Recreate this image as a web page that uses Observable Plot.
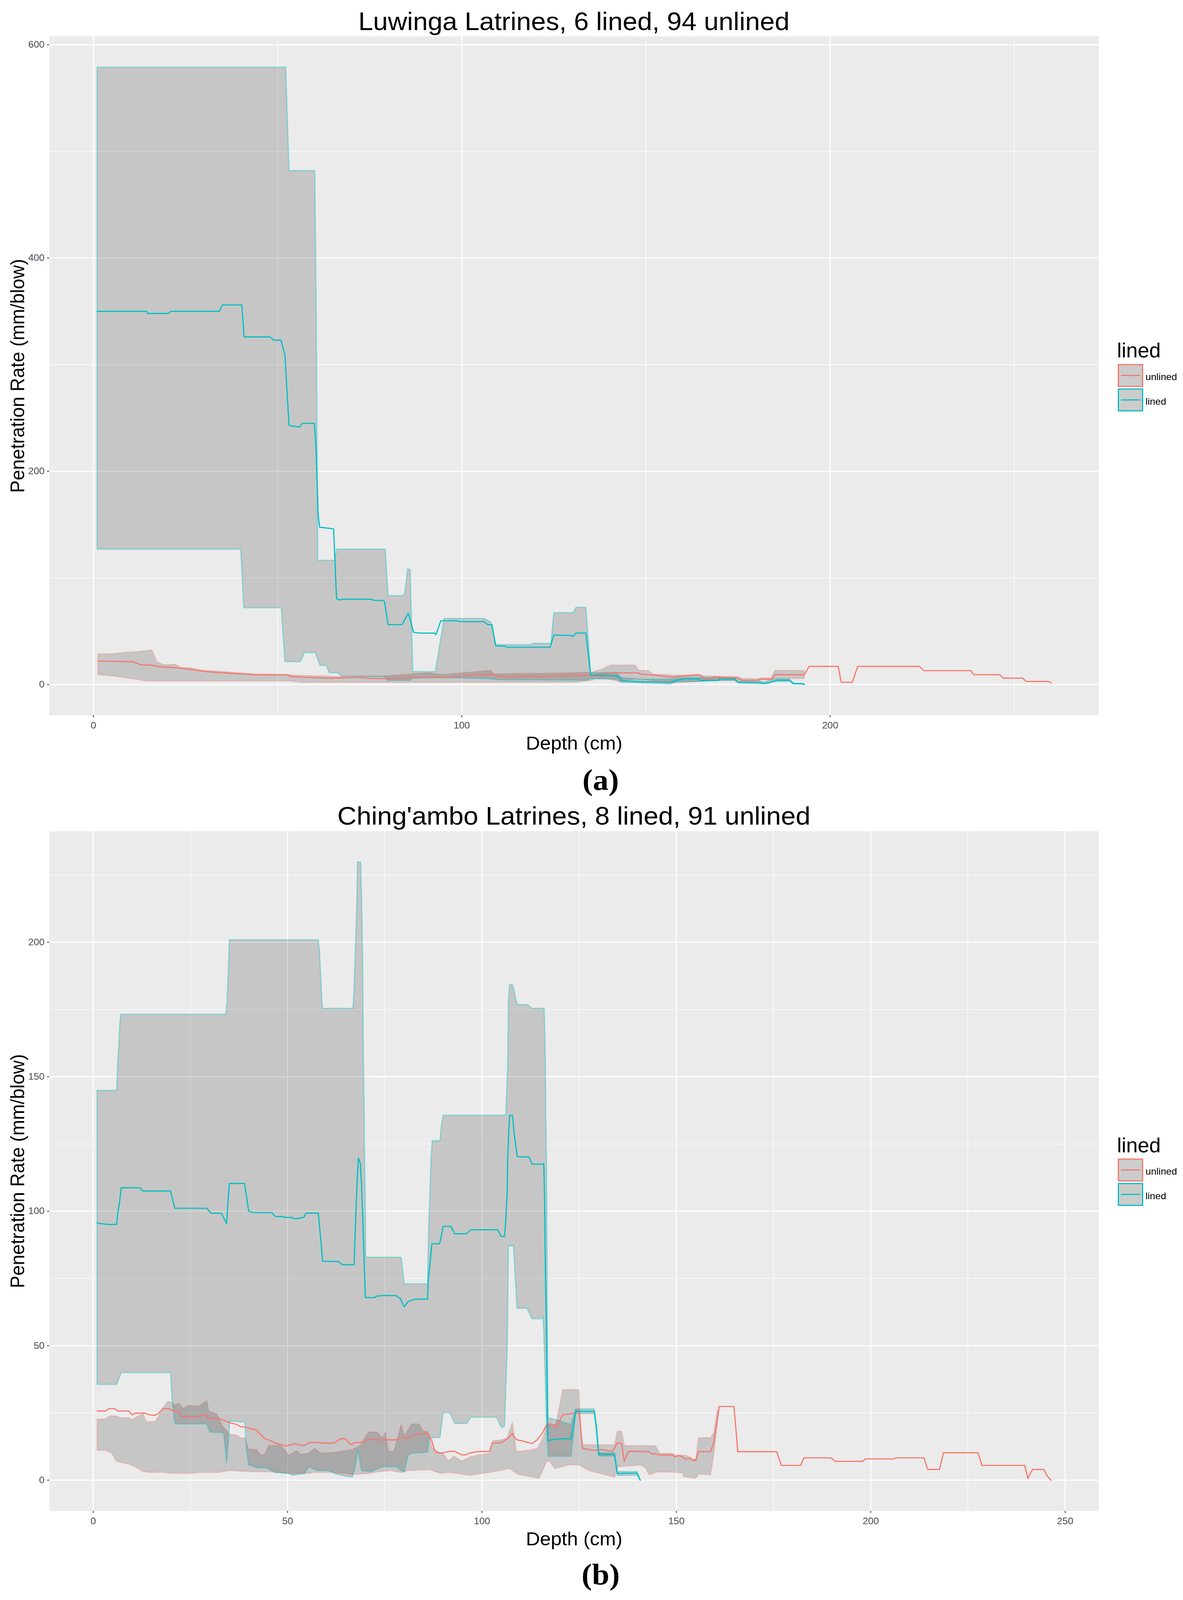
<!DOCTYPE html>
<html><head><meta charset="utf-8">
<script src="https://cdn.jsdelivr.net/npm/d3@7"></script>
<script src="https://cdn.jsdelivr.net/npm/@observablehq/plot@0.6"></script>
<style>
html,body{margin:0;padding:0;background:#fff;overflow:hidden;}
#page{position:relative;width:3029px;height:4255px;background:#fff;font-family:'Liberation Sans',Arial,sans-serif;overflow:hidden}
.abs{position:absolute;white-space:nowrap;line-height:1}
.title{font-size:68px;color:#000;text-align:center}
.cap{font-family:'Liberation Serif','Times New Roman',serif;font-weight:bold;font-size:80px;text-align:center;color:#000}
.ltitle{font-size:53px;color:#000}
.key{box-sizing:border-box;width:65px;height:61px;border:3px solid;background:#cccccc}
.key i{position:absolute;left:4.5px;width:50px;top:26px;height:3px}
.lab{font-size:25px;color:#000}
</style></head><body><div id="page"></div>
<script>
// ---------- Data ----------
const titles = ["Luwinga Latrines, 6 lined, 94 unlined", "Ching'ambo Latrines, 8 lined, 91 unlined"];
const captions = ["(a)", "(b)"];
const groups = ["unlined", "lined"];
const groupColors = ["#F8766D", "#00BFC4"];
const xLabel = "Depth (cm)";
const yLabel = "Penetration Rate (mm/blow)";

// Panel (a) Luwinga
const luwingaXTicks = [0, 100, 200];
const luwingaXMinor = [50, 150, 250];
const luwingaYTicks = [0, 200, 400, 600];
const luwingaYMinor = [100, 300, 500];

const luwingaUnlinedHi = [[1.2,28.6],[5.4,29],[8.9,30.4],[12.4,31],[14.2,31.8],[15.9,32.4],[17.2,21.5],[19,18.6],[22.1,19],[23.8,16],[26.4,15.6],[29.9,13.3],[36.1,12],[44,9.8],[52.7,9.2],[57,8.5],[63.2,8],[65.8,7.4],[79,8],[86,9.8],[91.2,11],[94.7,9.3],[103.5,12],[107.9,13.3],[108.7,9.8],[116.6,10.4],[122,10.5],[130.6,11],[135.4,11.5],[136,12.5],[138,14.3],[139.5,17],[140.7,18.3],[147,18.3],[148,13.3],[150.5,13.3],[152,9.8],[156.5,9.2],[157,8.6],[164.4,9.4],[166,8],[175,7.4],[176,5.6],[181,5.6],[181.4,6.2],[184,6.2],[185,13.3],[193,13.3]];
const luwingaUnlinedLo = [[1.2,9.2],[5.4,8],[8.9,6.2],[12.4,4.5],[14.2,3.3],[52.7,3.3],[57,2.1],[63.2,2],[130.6,2],[135.4,4],[136,5.4],[139.5,5.4],[140.7,4.5],[143,2.7],[147,5.3],[150.5,4.5],[152,3.5],[156.5,1.5],[157,1.5],[164.4,3],[166,3.3],[174,3.9],[176,3.5],[181,3.5],[181.4,4.5],[184,4.8],[185,5.6],[193,5.6]];
const luwingaUnlinedLine = [[1.2,22],[4.6,22],[5.2,21.5],[5.9,22],[6.8,21.5],[10.7,21.5],[12.4,19],[14.2,18],[14.7,18.6],[15.9,18],[17.7,16.8],[22.9,15.6],[26.4,13.9],[30.8,12],[37.8,10.4],[44,9.2],[52.7,9.2],[53.6,7.4],[57.1,6.8],[64.1,5.9],[72,6.8],[74.6,5.9],[80.7,5.3],[86.9,6.6],[94.7,6.8],[102.6,8.6],[107.9,9.8],[109.6,8],[112.3,6.8],[116.6,8],[122.2,7.2],[124.5,8],[130.6,8.2],[135.4,8.9],[140.7,10.9],[148,10.9],[148.5,9.8],[152,8.9],[156.5,7],[161,8],[164.4,9.2],[166.6,4.5],[168.4,7],[175,6],[176,3.9],[180.5,3.9],[181,5],[184.2,5],[185,9.2],[193,9.2],[194.3,17],[202.2,17],[203,2.1],[206,2.1],[207.5,17],[224.2,17],[225.5,13],[238.2,13],[239,9.2],[246,9.2],[247,6],[252.3,6],[253.2,2.9],[259.3,2.9],[260,1.5]];

const luwingaLinedHi = [[1,579],[52.2,579],[53.1,482],[60.1,482],[60.5,344],[60.9,116.5],[65.5,116.5],[66,127],[79.2,127],[80,83.3],[83.8,83.3],[84.5,85],[85.3,108.6],[86,108],[86.7,12.1],[92.8,12.1],[95.2,62],[106,62],[107.9,58.6],[109.2,37.4],[118.8,37.4],[119.3,38.6],[124.2,38.6],[125,67.4],[130.2,67.4],[131,72.4],[133.7,72.4],[135,10.9],[142,11.5],[143.3,6.5],[148.6,5],[156.5,5],[158.3,6],[164.8,6.5],[174,6.5],[175,3],[182,2.5],[185.5,5.5],[189,5],[190,1.5],[193,0.5]];
const luwingaLinedLo = [[1,127],[40,127],[40.8,72],[51,72],[52,21.5],[56.2,21.5],[57.3,30],[60.2,30],[61.5,18],[63.2,18],[64,11],[66.3,11],[67.3,8],[79,7.5],[79.8,3.9],[86,3.9],[86.7,6],[95,6.5],[107,5.5],[110,4.5],[133.7,4],[135,5.5],[142,5],[143.3,2],[148.6,1.5],[156.5,0.5],[158.3,2.5],[164.8,3],[170,4],[174,4],[175,1.5],[182,0.5],[185.5,3],[189,3],[190,0.5],[193,0]];
const luwingaLinedLine = [[1,350],[14.5,350],[14.7,348],[20.4,348],[21,350],[34.2,350],[35,356],[40.3,356],[40.9,326],[47.9,326],[49,323],[50.9,323],[52,309],[53.1,243],[56,241.5],[56.7,245],[60,245],[60.5,217],[61,160],[61.4,147.6],[65.2,146],[66,80.4],[67.2,79.2],[67.6,80],[75.5,80],[76,79],[78.5,78.8],[79,78],[80,56.2],[83.8,56.2],[85.5,67],[86.9,49],[88.5,48.2],[92.6,48.2],[93,46.8],[94.3,59.8],[98.7,59.8],[99.2,59],[106,59],[107,56.2],[108.2,56.2],[109.2,36.2],[111.8,36],[112.2,35],[124,35],[125,46.5],[129.7,45.9],[130.2,45],[131,48.2],[133.7,48.2],[135,8.6],[142,8.2],[143.8,3.3],[148.6,2.7],[156.5,2.1],[158.3,3.9],[160,5.3],[164.4,5.3],[164.8,3.9],[169.7,3.9],[170,5.3],[174,5.3],[175,2.1],[181,2.1],[182,0.9],[183.7,2.1],[185.5,4.1],[189,4.1],[190,0.9],[192.5,0.9],[193,0]];

// Panel (b) Ching'ambo
const chingamboXTicks = [0, 50, 100, 150, 200, 250];
const chingamboXMinor = [25, 75, 125, 175, 225];
const chingamboYTicks = [0, 50, 100, 150, 200];
const chingamboYMinor = [25, 75, 125, 175, 225];

const chingamboUnlinedHi = [[1,22.7],[3.1,22.7],[4.1,23.9],[6,23.9],[7,23.2],[9.2,23.2],[10,22.5],[11.3,23.6],[12.8,24.6],[13.6,21.8],[15.9,21.8],[16.9,23.9],[17.9,26.8],[19.2,29.3],[20,29],[21,27.9],[22,28.6],[23.1,26.6],[24.6,27.9],[27.2,27.5],[29.2,29.6],[29.7,25.7],[31.8,24.6],[33.1,20.4],[34.6,17.9],[34.9,17.1],[36.9,16.8],[37.9,15.7],[39,15.7],[40,11.4],[42,11.4],[43.1,9.3],[44.1,9.6],[45.1,12.9],[48.2,13],[50.3,9.3],[52.3,10.9],[53.3,9.6],[55.4,10],[56.9,11.8],[58.5,10],[62.6,10.4],[66.7,11.4],[68.7,12.9],[70.8,17.9],[72.9,17.9],[74.4,15.7],[75.2,17.9],[75.9,10.7],[77.4,10.7],[79.2,20.7],[80,16.4],[82,20.9],[83.8,20.9],[84.8,18.2],[85.9,18.2],[86.6,15.7],[87.1,12],[88.7,10.5],[90,10],[91.3,7.1],[92.8,8.9],[94.8,7.1],[96.8,8.6],[98.9,9.3],[101.9,10],[102.7,14.6],[105,15],[106.5,15.7],[107.8,21.4],[108.8,10.7],[112.1,11.1],[114.2,11.8],[115.7,15.7],[116.7,20.7],[119,20.7],[120.8,33.7],[124.9,33.7],[125.7,13.2],[134.1,13.2],[134.8,18.2],[135.9,18.2],[136.6,12.9],[144.6,12.8],[145.7,10],[148.9,9.9],[149.7,9.4],[152.6,9.2],[154.2,7.9],[155,7.9],[155.7,15.8],[158.8,15.8],[159.6,17.6],[160.4,25],[161,27.4]];
const chingamboUnlinedLo = [[1,11.1],[3.1,11.1],[4.9,9.9],[5.9,7.1],[7.7,6.4],[9.2,6],[10.8,5],[12.8,3.2],[14.4,2.9],[17.9,3],[19.5,2.6],[25.6,2.5],[27.5,2.9],[32.3,2.9],[34.9,3.6],[40,3.2],[45.1,3.1],[50.3,2.5],[55,2.5],[57,2.9],[62,2.9],[66.7,2.1],[70.8,2.5],[73,3.1],[76.4,3.6],[79,2.9],[81,3.6],[86.6,3.9],[89.2,2.5],[91.7,2.9],[96.8,1.8],[101.9,2.9],[107,4.3],[109.5,2.1],[114.7,0.7],[116.7,7.1],[117.3,7.1],[118.8,4.3],[122.3,5.7],[124.9,5.7],[127.4,3.6],[134.1,1.1],[135,5],[141,5.6],[142.2,4.3],[143,2],[145,3.1],[148.9,3],[151.6,2.7],[151.9,1.3],[155,0.7],[155.7,2.3],[158.8,2],[159.6,9.2],[160.4,20],[161,27.4]];
const chingamboUnlinedLine = [[1,25.7],[3.1,25.7],[4.1,26.6],[5.4,26.6],[6.4,25.7],[9.2,25.7],[10,24.3],[10.8,24.9],[13.3,24.9],[14.4,24.3],[15.9,24.1],[16.9,25],[17.9,26.6],[19.5,26.6],[20.5,25.7],[21.8,25.7],[23.1,23.4],[24.6,23.8],[26.2,23.4],[28.7,24.5],[29.7,22.9],[32.3,22.9],[33.8,22.1],[35,21.4],[36.9,20.7],[37.9,19.9],[39.5,19.6],[42,18.6],[44.1,15.4],[45.1,15],[46.7,13.9],[47.7,13.4],[49.7,12.7],[51.8,13.6],[52.8,13.1],[54.4,12.9],[55.4,13.9],[56.9,14.1],[59,13.8],[62,13.8],[63.6,15.4],[64.9,15.4],[66.2,13.2],[67.2,13.9],[69.2,14.1],[71,15.4],[72.8,15],[77.9,15],[79.7,15.9],[80.5,15.4],[81.5,16.1],[83.8,17.1],[86.1,17.4],[87.1,14.6],[87.9,10.7],[89.2,10],[91.7,10.7],[93,10.7],[94.8,9.4],[95.8,9.4],[96.8,10.1],[98.9,10.6],[101.9,10.7],[102.7,13.8],[105,13.9],[106.5,15.4],[107.8,17.3],[108.8,15.1],[111.1,14.3],[112.9,13.6],[114.2,15],[115.7,17.9],[116.7,20.9],[117.8,20.9],[119,19.6],[120.8,24.3],[123.9,25],[124.9,26.4],[125.9,11.8],[128.7,11.1],[130.5,11.4],[133.6,10.7],[134.8,13.9],[135.9,13.6],[136.6,7.1],[137.7,10.7],[143,10.6],[143.8,9.7],[144.6,9.9],[145.4,9.4],[148.9,9.4],[149.7,8.6],[150.4,9],[151.1,9],[151.9,8.3],[152.6,7.8],[153.4,8.3],[154.2,7.3],[155,7.3],[155.7,10.6],[158.8,10.6],[159.6,13.9],[160.4,20.9],[161,27.4],[164.8,27.4],[165.2,21.1],[165.8,10.6],[175.8,10.6],[177,5.5],[182,5.5],[182.8,8.3],[189.8,8.3],[190.9,7],[197.9,7],[198.6,7.9],[206,7.9],[206.4,8.3],[213.7,8.3],[214.6,4],[217.7,4],[218.7,10.2],[227.6,10.2],[228.6,5.5],[239.6,5.5],[240.4,0.6],[241.6,4],[244.5,4],[245.4,1.5],[246.4,0]];

const chingamboLinedHi = [[1,144.9],[6,144.9],[6.3,155],[6.6,162],[6.8,169],[7.1,173.2],[34.1,173.2],[34.4,177.5],[34.7,187.2],[34.9,196],[35,200.9],[57.9,200.9],[58.2,196.6],[58.5,187.7],[58.8,179.2],[59,175.4],[66.8,175.4],[67.1,182.4],[67.4,195.7],[67.7,209],[67.9,222.6],[68,229.8],[68.8,229.8],[69.1,211.3],[69.3,193],[69.4,174.8],[69.5,156],[69.7,137.8],[69.8,119.5],[70,101.2],[70.1,82.9],[79.2,82.9],[80,73],[86,73],[86.3,95],[86.6,106.1],[86.9,119.5],[87.2,126.2],[89.2,126.2],[89.5,131.1],[90,135.7],[106.1,135.7],[106.3,141.8],[106.6,153.8],[106.7,165.9],[106.8,178],[107.1,184.3],[107.8,184.3],[108.2,182.4],[108.7,178.8],[109.1,176.8],[111.8,176.8],[112.8,175.4],[116,175.4],[116.3,156],[116.4,137],[116.6,117.3],[116.7,90],[116.8,60],[117,23.2],[119,22.5],[122.9,20.7],[124.1,26.5],[128.9,26.5],[130,10.2],[134.1,10.2],[134.8,3.2],[139.9,3.2],[140.7,0]];
const chingamboLinedLo = [[1,35.6],[6,35.6],[7.2,40],[19.9,40],[20.3,30],[21,20.9],[29.2,20.9],[30,17.9],[33.1,17.7],[33.6,17.1],[34.3,6.4],[34.9,17.1],[35.1,22],[39,21.6],[39.4,11.4],[40,5.7],[42,4.6],[44.5,4.6],[46.7,2.9],[50.3,2.5],[51.3,1.8],[54.4,2.5],[55.4,5],[57.5,3.6],[60.5,3.6],[62,2.5],[65.1,1.4],[66.7,1.2],[67.4,5],[68.1,11.4],[69,3.6],[71.3,3.1],[73.3,4.3],[74.6,5],[77.9,5],[80,2.9],[81,9.3],[82,10],[86,10.4],[86.4,15.7],[89.2,15.9],[90,25.1],[91.7,25.1],[93,21.1],[96.1,21.1],[97.1,23.4],[103.7,23.4],[105,19.6],[105.8,20],[106.5,50],[106.8,87.1],[108.1,87.1],[109,63.9],[111.6,63.9],[112.9,60],[115.2,60],[115.7,60.7],[115.9,55],[116.2,41],[116.6,20],[117,8.9],[122.9,8.9],[124.1,24.8],[128.9,24.8],[130,9],[134.1,9],[134.8,1.8],[139.9,1.8],[140.7,0]];
const chingamboLinedLine = [[1,95.6],[3.6,95.1],[6,95.1],[6.4,100],[6.8,103.6],[7.2,108.7],[12,108.7],[12.8,107.5],[19.9,107.5],[20.3,105],[21,101.1],[29.2,101.1],[30.3,99.3],[33,99.2],[34.3,95.4],[34.6,102],[35,110.3],[38.9,110.3],[39.3,106.6],[40,100],[41.2,99.5],[46,99.5],[46.4,98.6],[47,98],[49,98],[49.4,97.7],[51.2,97.7],[51.5,97.2],[52.3,97.2],[54.2,97.7],[54.7,99.3],[57.9,99.3],[58.5,90],[59,81.4],[63,81.3],[64.1,80.1],[67.1,80.1],[67.7,104.8],[68,114.6],[68.2,119.8],[68.5,118.7],[68.7,117.7],[69,110.6],[69.3,98.6],[70,67.9],[72.5,67.9],[72.8,68.4],[74.9,68.7],[77.9,68.6],[79,67.5],[80,64.4],[81,66.4],[82.6,67.3],[86,67.3],[86.2,75],[86.6,80],[87.1,87.9],[89.1,87.9],[89.5,90.4],[90,94.4],[92,94.4],[93,91.6],[96,91.6],[97.1,93.1],[104,93.1],[105,90.6],[105.8,90.7],[106.1,96.4],[106.5,107.5],[106.6,119.1],[106.9,129.8],[107.1,135.6],[107.8,135.6],[108,133.8],[108.2,129.8],[108.6,125.3],[108.9,122.2],[109.1,120.2],[112,120.2],[112.3,119.5],[112.9,117.5],[115.6,117.5],[115.9,117.7],[116.1,104.8],[116.3,79.3],[116.6,52.9],[116.8,27.1],[117,14.6],[117.8,15],[120,15.4],[122.9,15.4],[123.6,20.7],[124.1,25.6],[128.9,25.6],[129.5,19.3],[130,9.6],[134.1,9.6],[134.8,2.5],[137.4,2.6],[139.9,2.6],[140.7,0]];

// ---------- Rendering ----------
const page = document.getElementById("page");
const FONT = "'Liberation Sans', Arial, sans-serif";
const ribbonPolygon = (hi, lo) => [...hi, ...lo.slice().reverse(), hi[0]];

function makePanel(cfg) {
  const ribbonMarks = cfg.series.map((s, i) => Plot.line(ribbonPolygon(s.hi, s.lo), {
    x: d => d[0], y: d => d[1], curve: "linear",
    fill: "#333333", fillOpacity: 0.2,
    stroke: groupColors[i], strokeOpacity: i === 0 ? 0.3 : 0.38, strokeWidth: 3
  }));
  const lineMarks = cfg.series.map((s, i) => Plot.line(s.line, {
    x: d => d[0], y: d => d[1], curve: "linear", stroke: groupColors[i], strokeWidth: 3
  }));
  const svg = Plot.plot({
    width: 3029, height: cfg.height,
    marginTop: 6, marginBottom: 118, marginLeft: 126, marginRight: 216,
    x: {domain: cfg.xDomain, label: null},
    y: {domain: cfg.yDomain, label: null},
    style: {fontFamily: FONT, background: "transparent", overflow: "visible"},
    marks: [
      Plot.frame({fill: "#EBEBEB", stroke: "none"}),
      Plot.gridX({ticks: cfg.xMinor, stroke: "white", strokeOpacity: 1, strokeWidth: 1.4}),
      Plot.gridY({ticks: cfg.yMinor, stroke: "white", strokeOpacity: 1, strokeWidth: 1.4}),
      Plot.gridX({ticks: cfg.xTicks, stroke: "white", strokeOpacity: 1, strokeWidth: 2.8}),
      Plot.gridY({ticks: cfg.yTicks, stroke: "white", strokeOpacity: 1, strokeWidth: 2.8}),
      ...ribbonMarks,
      ...lineMarks,
      Plot.axisX({ticks: cfg.xTicks, label: null, tickSize: 5.5, tickPadding: 12, fontSize: 25, stroke: "#333333", strokeWidth: 2, fill: "#4D4D4D"}),
      Plot.axisY({ticks: cfg.yTicks, label: null, tickSize: 5.5, tickPadding: 7, fontSize: 25, stroke: "#333333", strokeWidth: 2, fill: "#4D4D4D"}),
      Plot.text([xLabel], {text: d => d, frameAnchor: "bottom", dy: 75, fontSize: 50, fill: "black", lineAnchor: "middle", textAnchor: "middle"}),
      Plot.text([yLabel], {text: d => d, frameAnchor: "left", dx: -81, rotate: -90, fontSize: 50, fill: "black", lineAnchor: "middle", textAnchor: "middle"})
    ]
  });
  svg.style.position = "absolute";
  svg.style.left = "0px";
  svg.style.top = cfg.svgTop + "px";
  page.appendChild(svg);

  const add = (cls, text, left, top, extra) => {
    const d = document.createElement("div");
    d.className = "abs " + cls;
    d.textContent = text;
    d.style.left = left + "px";
    d.style.top = top + "px";
    if (extra) Object.assign(d.style, extra);
    page.appendChild(d);
    return d;
  };
  const o = cfg.offset;
  add("title", cfg.title, 126, 22 + o, {width: "2687px"});
  add("cap", cfg.caption, 1338, 2033 + o, {width: "400px"});
  add("ltitle", "lined", 2860, 906 + o);
  groups.forEach((g, i) => {
    const k = document.createElement("div");
    k.className = "abs key";
    k.style.left = "2862px";
    k.style.top = (968 + 65 * i + o) + "px";
    k.style.borderColor = groupColors[i];
    const ln = document.createElement("i");
    ln.style.background = groupColors[i];
    k.appendChild(ln);
    page.appendChild(k);
    add("lab", g, 2933, 989.8 + 65 * i + o);
  });
}

makePanel({
  title: titles[0], caption: captions[0], offset: 0, svgTop: 90, height: 1930,
  xDomain: [-11.95, 272.95], yDomain: [-28.95, 607.95],
  xTicks: luwingaXTicks, xMinor: luwingaXMinor, yTicks: luwingaYTicks, yMinor: luwingaYMinor,
  series: [
    {hi: luwingaUnlinedHi, lo: luwingaUnlinedLo, line: luwingaUnlinedLine},
    {hi: luwingaLinedHi, lo: luwingaLinedLo, line: luwingaLinedLine}
  ]
});
makePanel({
  title: titles[1], caption: captions[1], offset: 2113, svgTop: 2204, height: 1932,
  xDomain: [-11.27, 258.67], yDomain: [-11.49, 241.29],
  xTicks: chingamboXTicks, xMinor: chingamboXMinor, yTicks: chingamboYTicks, yMinor: chingamboYMinor,
  series: [
    {hi: chingamboUnlinedHi, lo: chingamboUnlinedLo, line: chingamboUnlinedLine},
    {hi: chingamboLinedHi, lo: chingamboLinedLo, line: chingamboLinedLine}
  ]
});

// Fit the 3029x4255 layout into the visible viewport if the window's content area is smaller.
(function fit() {
  const vw = document.documentElement.clientWidth || window.innerWidth;
  const vh = window.innerHeight || document.documentElement.clientHeight;
  const sx = vw > 500 ? Math.min(1, vw / 3029) : 1;
  const sy = vh > 500 ? Math.min(1, vh / 4255) : 1;
  if (sx < 1 || sy < 1) {
    page.style.transformOrigin = "0 0";
    page.style.transform = `scale(${sx}, ${sy})`;
  }
})();
</script></body></html>
